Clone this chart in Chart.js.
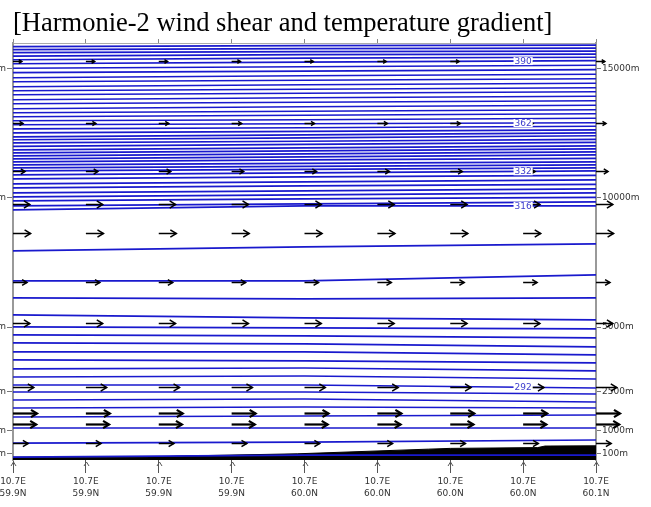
<!DOCTYPE html>
<html><head><meta charset="utf-8">
<style>html,body{margin:0;padding:0;background:#fff;overflow:hidden}canvas{display:block}</style>
<script src="https://cdn.jsdelivr.net/npm/chart.js@4.4.1/dist/chart.umd.min.js"></script>
</head><body>
<canvas id="c" width="651" height="507"></canvas>
<script>
// ---- data (heights in metres, x in cross-section tick units) ----
const thetaLevels = [278,280,282,284,286,288,290,292,294,296,298,300,302,304,306,308,310,312,314,316,
  318,320,322,324,326,328,330,332,334,336,338,340,342,344,346,348,350,352,354,356,358,360,
  362,364,366,368,370,372,374,376,378,380,382,384,386,388,390,392,394,396,398,400];
const isoX = [0, 4, 8];
const isoLeft = [-35,507,1089,1515,1864,2174,2484,2755,3065,3376,3724,4034,4383,4693,5003,5469,6128,6786,7949,9538,
  9693,9887,10042,10197,10391,10546,10740,10895,11050,11166,11283,11399,11515,11631,11748,11864,12000,12135,12252,12368,12523,12678,
  12833,12988,13143,13298,13453,13647,13802,13996,14151,14306,14500,14655,14849,15023,15197,15352,15488,15624,15740,15856];
const isoMid = [42,546,1089,1554,1903,2213,2484,2755,3104,3414,3686,4034,4345,4655,4965,5352,6089,6786,8104,9693,
  9771,9965,10120,10275,10469,10624,10818,10973,11108,11225,11341,11476,11593,11709,11825,11942,12077,12194,12329,12445,12581,12717,
  12872,13027,13201,13356,13531,13705,13880,14054,14209,14383,14558,14732,14907,15081,15256,15411,15546,15663,15779,15895];
const isoRight = [42,624,1089,1593,1864,2097,2407,2639,2988,3298,3608,3918,4228,4577,4926,5275,6128,7019,8221,9693,
  9849,10023,10197,10352,10527,10701,10876,11050,11166,11283,11399,11535,11670,11787,11903,12019,12155,12271,12407,12523,12639,12775,
  12911,13085,13259,13414,13589,13763,13938,14112,14267,14442,14616,14790,14965,15139,15314,15449,15566,15682,15798,15914];
const xTickPos = [0,1,2,3,4,5,6,7,8];
const lonLabels = ['10.7E','10.7E','10.7E','10.7E','10.7E','10.7E','10.7E','10.7E','10.7E'];
const latLabels = ['59.9N','59.9N','59.9N','59.9N','60.0N','60.0N','60.0N','60.0N','60.1N'];
const yTickValues = [100,1000,2500,5000,10000,15000];
const windLevels = [15314,12911,11050,9771,8647,6748,5158,2678,1670,1244,507];
const windSpeeds = [11,12.5,15,21,22,17.5,21,26,30,29,19];
const terrainX = [0,1,2,2.25,2.6,3.9,5.7,6,7.2,7.3,8];
const terrainH = [-40,-40,-35,0,20,90,270,300,330,390,400];
const contourLabelLevels = [390,362,332,316,292];
const contourLabelX = 7;

// ---- styles ----
const BLUE = 'rgb(25,25,205)';
const PX_PER_MS = 0.8;
const tickFont = {family:"'DejaVu Sans', sans-serif", size:9, lineHeight:1.3};

const isoSets = thetaLevels.map((t,i)=>{
  const hs = [isoLeft[i], isoMid[i], isoRight[i]];
  return {label:'theta '+t+' K', data: isoX.map((x,j)=>({x:x, y:hs[j]})),
    borderColor:BLUE, borderWidth:1.7, pointRadius:0, fill:false, tension:0, order:1};
});
const terrainSet = {label:'terrain', data: terrainX.map((x,i)=>({x:x, y:terrainH[i]})),
  borderColor:'#000', backgroundColor:'#000', borderWidth:1, pointRadius:0, fill:'start', tension:0, order:5};

function arrow(ctx, x0, y0, x1, y1, head){
  ctx.beginPath(); ctx.moveTo(x0,y0); ctx.lineTo(x1,y1); ctx.stroke();
  ctx.beginPath(); ctx.moveTo(x1-head, y1-head*0.6); ctx.lineTo(x1,y1); ctx.lineTo(x1-head, y1+head*0.6); ctx.stroke();
}

const overlay = {
  id:'overlay',
  afterDatasetsDraw(chart){
    const {ctx, chartArea} = chart; const x = chart.scales.x, y = chart.scales.y;
    ctx.save();
    ctx.strokeStyle='#000'; ctx.lineCap='butt'; ctx.lineJoin='miter';
    windLevels.forEach((h,r)=>{
      const py = Math.round(y.getPixelForValue(h))+0.5;
      const len = windSpeeds[r]*PX_PER_MS;
      ctx.lineWidth = windSpeeds[r] >= 28 ? 2.2 : 1.5;
      xTickPos.forEach(xv=>{
        const px = x.getPixelForValue(xv);
        arrow(ctx, px, py, px+len, py, Math.min(6, len*0.35));
      });
    });
    // tick arrow heads below the axis
    ctx.strokeStyle='#555'; ctx.lineWidth=1;
    xTickPos.forEach(xv=>{
      const px = Math.round(x.getPixelForValue(xv))+0.5, py = chartArea.bottom+2;
      ctx.beginPath(); ctx.moveTo(px-2.5, py+4); ctx.lineTo(px, py); ctx.lineTo(px+2.5, py+4); ctx.stroke();
    });
    // contour labels
    ctx.font = "9px 'DejaVu Sans', sans-serif"; ctx.textAlign='center'; ctx.textBaseline='middle';
    contourLabelLevels.forEach(t=>{
      const i = thetaLevels.indexOf(t);
      const h = isoMid[i] + (isoRight[i]-isoMid[i])*(contourLabelX-isoX[1])/(isoX[2]-isoX[1]);
      const px = x.getPixelForValue(contourLabelX), py = y.getPixelForValue(h);
      const w = ctx.measureText(String(t)).width;
      ctx.fillStyle='#fff'; ctx.fillRect(px-w/2-1, py-4, w+2, 8);
      ctx.fillStyle='rgb(60,60,205)'; ctx.fillText(String(t), px, py+0.5);
    });
    ctx.restore();
  }
};

const setTicks = vals => axis => { axis.ticks = vals.map(v=>({value:v})); };

new Chart(document.getElementById('c'), {
  type:'line',
  data:{datasets:[...isoSets, terrainSet]},
  options:{
    responsive:false, animation:false, devicePixelRatio:1,
    layout:{padding:{left:0, right:0, top:0, bottom:0}},
    plugins:{
      legend:{display:false}, tooltip:{enabled:false},
      title:{display:true, fullSize:false, text:'[Harmonie-2 wind shear and temperature gradient]', align:'start', color:'#000',
        font:{family:"'Liberation Serif', 'Times New Roman', serif", size:26.5, weight:'normal', lineHeight:1},
        padding:{top:10.5, bottom:2}}
    },
    scales:{
      x:{type:'linear', position:'bottom', min:0, max:8, afterBuildTicks:setTicks(xTickPos),
        afterFit:a=>{a.height=47; a.paddingLeft=0; a.paddingRight=0;},
        ticks:{autoSkip:false, maxRotation:0, color:'#333', font:tickFont, padding:3,
          callback:(v)=>{const i=xTickPos.indexOf(v); return [lonLabels[i], latLabels[i]];}},
        grid:{drawOnChartArea:false, tickLength:13, color:'#555'}, border:{display:false}},
      xTop:{type:'linear', position:'top', min:0, max:8, afterBuildTicks:setTicks(xTickPos),
        afterFit:a=>{a.height=4; a.paddingLeft=0; a.paddingRight=0;},
        ticks:{display:false}, grid:{drawOnChartArea:false, tickLength:4, color:'#888'}, border:{color:'#aaa', width:1}},
      y:{type:'linear', position:'left', min:-150, max:16000, afterBuildTicks:setTicks(yTickValues),
        afterFit:a=>{a.width=13; a.paddingTop=0; a.paddingBottom=0;},
        ticks:{color:'#333', font:tickFont, padding:1, callback:v=>v+'m'},
        grid:{drawOnChartArea:false, tickLength:6, color:'#777'}, border:{color:'#999', width:2}},
      y2:{type:'linear', position:'right', min:-150, max:16000, afterBuildTicks:setTicks(yTickValues),
        afterFit:a=>{a.width=55; a.paddingTop=0; a.paddingBottom=0;},
        ticks:{color:'#333', font:tickFont, padding:1, callback:v=>v+'m'},
        grid:{drawOnChartArea:false, tickLength:5, color:'#777'}, border:{color:'#999', width:2}}
    }
  },
  plugins:[overlay]
});
</script>
</body></html>
